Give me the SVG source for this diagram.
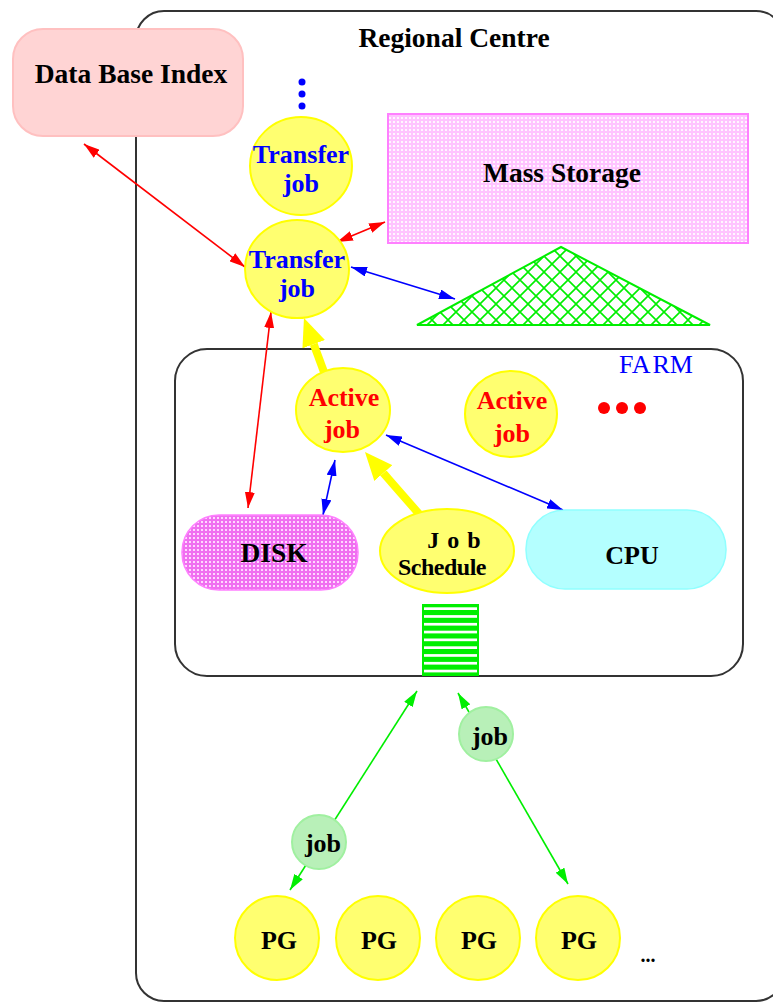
<svg xmlns="http://www.w3.org/2000/svg" width="773" height="1003" viewBox="0 0 773 1003">
  <style>
    text { font-family: "Liberation Serif", "Times New Roman", serif; font-weight: bold; font-size: 26px; text-anchor: middle; }
    .big { font-size: 27.5px; }
    .blk { fill: #000; }
    .blu { fill: #0000ff; }
    .red { fill: #ff0000; }
    .frame { fill: none; stroke: #333; stroke-width: 2; }
    .yel { fill: #ffff70; stroke: #ffff00; stroke-width: 2; }
    .pg { fill: #ffff70; stroke: #ffff00; stroke-width: 2; }
    .gjob { fill: #b8f0b8; stroke: #a0f0a0; stroke-width: 2; }
    .lr { stroke: #ff0000; stroke-width: 1.6; fill: none; marker-start: url(#hr); marker-end: url(#hr); }
    .lb { stroke: #0000ff; stroke-width: 1.6; fill: none; marker-start: url(#hb); marker-end: url(#hb); }
    .lg { stroke: #00ee00; stroke-width: 1.6; fill: none; marker-start: url(#hg); marker-end: url(#hg); }
    .ly { stroke: #ffff00; stroke-width: 8; fill: none; marker-end: url(#hy); }
  </style>
  <defs>
    <marker id="hr" markerUnits="userSpaceOnUse" markerWidth="16" markerHeight="10" refX="16" refY="5" orient="auto-start-reverse">
      <path d="M0,0 L16,5 L0,10 z" fill="#ff0000"/>
    </marker>
    <marker id="hb" markerUnits="userSpaceOnUse" markerWidth="16" markerHeight="10" refX="16" refY="5" orient="auto-start-reverse">
      <path d="M0,0 L16,5 L0,10 z" fill="#0000ff"/>
    </marker>
    <marker id="hg" markerUnits="userSpaceOnUse" markerWidth="16" markerHeight="10" refX="16" refY="5" orient="auto-start-reverse">
      <path d="M0,0 L16,5 L0,10 z" fill="#00ee00"/>
    </marker>
    <marker id="hy" markerUnits="userSpaceOnUse" markerWidth="28" markerHeight="24" refX="0" refY="12" orient="auto">
      <path d="M0,0 L28,12 L0,24 z" fill="#ffff00"/>
    </marker>
    <!-- dotted pink fill for storage -->
    <pattern id="dotPink" patternUnits="userSpaceOnUse" width="4" height="4">
      <rect width="4" height="4" fill="#ffc4ff"/>
      <rect x="1" y="1" width="2" height="2" fill="#fff6ff"/>
    </pattern>
    <pattern id="dotDisk" patternUnits="userSpaceOnUse" width="4" height="4">
      <rect width="4" height="4" fill="#f070f0"/>
      <rect x="1" y="1" width="2" height="2" fill="#ffd8ff"/>
    </pattern>
    <!-- cross-hatch for the tape pile -->
    <pattern id="hatch" patternUnits="userSpaceOnUse" x="0" y="0" width="16" height="16">
      <path d="M0,0 L16,16 M16,0 L0,16" stroke="#00ee00" stroke-width="1.6"/>
    </pattern>
  </defs>

  <rect width="773" height="1003" fill="#fff"/>

  <!-- regional centre frame -->
  <g id="regional-centre">
    <rect class="frame" x="136" y="11" width="648" height="990" rx="28"/>
    <text class="blk big" x="454" y="47">Regional Centre</text>
  </g>

  <!-- farm frame -->
  <g id="farm">
    <rect class="frame" x="175" y="349" width="568" height="327" rx="32"/>
    <text class="blu" x="656" y="373" style="font-weight:normal">FA<tspan dx="2">RM</tspan></text>
  </g>

  <g id="connectors">
    <line class="lr" x1="84" y1="144" x2="245" y2="267"/>
    <line class="lr" x1="337" y1="242" x2="385" y2="222"/>
    <line class="lr" x1="271" y1="312" x2="248" y2="508"/>
    <line class="lb" x1="351" y1="267" x2="455" y2="299"/>
    <line class="lb" x1="335" y1="460" x2="323" y2="515"/>
    <line class="lb" x1="386" y1="435" x2="563" y2="510"/>
    <line class="ly" x1="324" y1="372" x2="313.7" y2="344.2"/>
    <line class="ly" x1="420" y1="515" x2="383.4" y2="473.1"/>
    <line class="lg" x1="290" y1="890" x2="417" y2="691"/>
    <line class="lg" x1="458" y1="693" x2="568" y2="884"/>
  </g>

  <g id="db-index">
    <rect x="13" y="29" width="230" height="107" rx="30" fill="#ffd4d4" stroke="#ffc0c0" stroke-width="2"/>
    <text class="blk big" x="131" y="83">Data Base Index</text>
  </g>

  <g id="transfer-dots">
    <circle cx="302" cy="82" r="3.5" fill="#0000ff"/>
    <circle cx="302" cy="94" r="3.5" fill="#0000ff"/>
    <circle cx="302" cy="106" r="3.5" fill="#0000ff"/>
  </g>

  <g id="transfer-job-1">
    <ellipse class="yel" cx="301" cy="166" rx="51" ry="49"/>
    <text class="blu" x="301" y="163">Transfer</text>
    <text class="blu" x="301" y="192">job</text>
  </g>

  <g id="transfer-job-2">
    <ellipse class="yel" cx="297" cy="269" rx="52" ry="49"/>
    <text class="blu" x="297" y="268">Transfer</text>
    <text class="blu" x="297" y="297">job</text>
  </g>

  <g id="mass-storage">
    <rect x="388" y="114" width="360" height="129" fill="url(#dotPink)" stroke="#ff80ff" stroke-width="2"/>
    <text class="blk big" x="562" y="182">Mass Storage</text>
  </g>

  <g id="tape-pile">
    <polygon points="561,247 710,325 417,325" fill="url(#hatch)" stroke="#00ee00" stroke-width="2"/>
  </g>

  <g id="active-job-1">
    <ellipse class="yel" cx="343" cy="410" rx="47" ry="42"/>
    <text class="red" x="344" y="406">Active</text>
    <text class="red" x="342" y="438">job</text>
  </g>

  <g id="active-job-2">
    <ellipse class="yel" cx="511" cy="414" rx="46" ry="43"/>
    <text class="red" x="512" y="409">Active</text>
    <text class="red" x="512" y="442">job</text>
  </g>

  <g id="active-more">
    <circle cx="604" cy="408" r="6" fill="#ff0000"/>
    <circle cx="622" cy="408" r="6" fill="#ff0000"/>
    <circle cx="640" cy="408" r="6" fill="#ff0000"/>
  </g>

  <g id="disk">
    <rect x="182" y="515" width="176" height="75" rx="37" fill="url(#dotDisk)" stroke="#ff80ff" stroke-width="1.5"/>
    <text class="blk big" x="274" y="562">DISK</text>
  </g>

  <g id="job-schedule">
    <ellipse class="yel" cx="447" cy="551" rx="67" ry="42"/>
    <text class="blk" x="458" y="548" letter-spacing="8" style="font-size:24px">Job</text>
    <text class="blk" x="442" y="575" letter-spacing="-0.5" style="font-size:24px">Schedule</text>
  </g>

  <g id="cpu">
    <rect x="526" y="510" width="200" height="79" rx="39" fill="#b4ffff" stroke="#90ffff" stroke-width="1.5"/>
    <text class="blk" x="632" y="564">CPU</text>
  </g>

  <g id="job-queue">
    <rect x="422" y="604" width="57" height="72" fill="#00ee00"/>
    <g fill="#fff">
      <rect x="424" y="607.3" width="53" height="2.7"/>
      <rect x="424" y="615.1" width="53" height="2.7"/>
      <rect x="424" y="622.9" width="53" height="2.7"/>
      <rect x="424" y="630.7" width="53" height="2.7"/>
      <rect x="424" y="638.5" width="53" height="2.7"/>
      <rect x="424" y="646.3" width="53" height="2.7"/>
      <rect x="424" y="654.1" width="53" height="2.7"/>
      <rect x="424" y="661.9" width="53" height="2.7"/>
      <rect x="424" y="669.7" width="53" height="2.7"/>
    </g>
  </g>

  <g id="job-in">
    <circle class="gjob" cx="486" cy="734" r="27"/>
    <text class="blk" x="490" y="745">job</text>
  </g>

  <g id="job-out">
    <circle class="gjob" cx="319" cy="842" r="27"/>
    <text class="blk" x="323" y="852">job</text>
  </g>

  <g id="pg-1">
    <ellipse class="pg" cx="277" cy="938" rx="42" ry="42"/>
    <text class="blk" x="279" y="949">PG</text>
  </g>
  <g id="pg-2">
    <ellipse class="pg" cx="378" cy="938" rx="42" ry="42"/>
    <text class="blk" x="379" y="949">PG</text>
  </g>
  <g id="pg-3">
    <ellipse class="pg" cx="478" cy="938" rx="42" ry="42"/>
    <text class="blk" x="479" y="949">PG</text>
  </g>
  <g id="pg-4">
    <ellipse class="pg" cx="578" cy="938" rx="42" ry="42"/>
    <text class="blk" x="579" y="949">PG</text>
  </g>
  <g id="pg-more">
    <text class="blk" x="648" y="962" style="font-size:20px">...</text>
  </g>
</svg>
